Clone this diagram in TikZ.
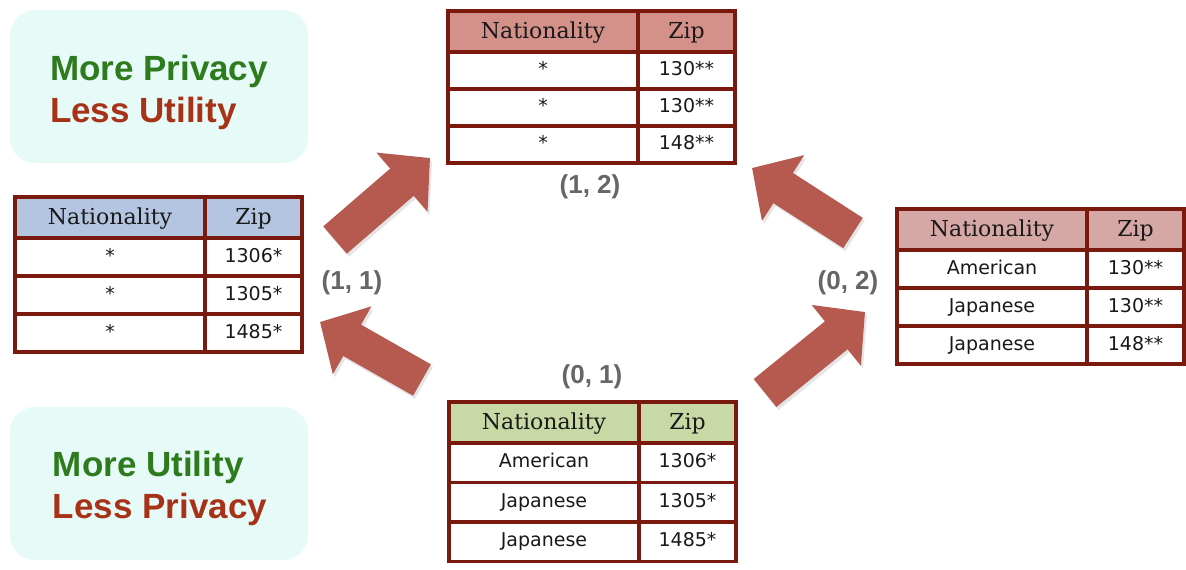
\documentclass[tikz,border=0pt]{standalone}
\usepackage{fontspec}
\setsansfont{Liberation Sans}
\newfontfamily\headfont{DejaVu Serif}
\newfontfamily\cellfont{DejaVu Sans}
\usetikzlibrary{arrows.meta}

\definecolor{tabline}{HTML}{7A1A0E}
\definecolor{hblue}{HTML}{B3C5E1}
\definecolor{hred}{HTML}{D4918A}
\definecolor{hpink}{HTML}{D6A8A5}
\definecolor{hgreen}{HTML}{C9D9A5}
\definecolor{boxcyan}{HTML}{E6FBF8}
\definecolor{moregreen}{HTML}{2E7B1E}
\definecolor{lessred}{HTML}{A83218}
\definecolor{arrowred}{HTML}{B65A50}
\definecolor{labgray}{HTML}{666666}

\tikzset{
  tabgrid/.style={draw=tabline, line width=1.6pt},
  headtxt/.style={inner sep=0pt, font=\headfont\fontsize{11}{13}\selectfont, text=black!90, text height=8pt, text depth=2pt},
  celltxt/.style={inner sep=0pt, font=\cellfont\fontsize{9.5}{11}\selectfont, text=black!90, text height=7pt, text depth=2pt},
  infobox/.style={fill=boxcyan, rounded corners=12.5pt, minimum width=149pt, minimum height=76.5pt,
    align=left, font=\sffamily\bfseries\fontsize{17.5}{21}\selectfont},
  steplabel/.style={font=\sffamily\bfseries\fontsize{13}{15}\selectfont, text=labgray},
  blockarrow/.style={line width=18pt, draw=arrowred, -{Triangle[width=38pt,length=18.5pt]}},
  arrowshadow/.style={blockarrow, draw=black!10}
}

% name, left, top, header colour, row height, rows
\newcommand{\ktab}[6]{%
  \fill[#4] (#2,#3) rectangle ++(287,41);
  \node[headtxt] (#1-nat) at (#2+95,#3+21) {Nationality};
  \node[headtxt] (#1-zip) at (#2+238.5,#3+21) {Zip};
  \foreach \nat/\zip [count=\r] in {#6} {
    \node[celltxt] (#1-\r-a) at (#2+95,#3+41+\r*#5-0.5*#5) {\nat};
    \node[celltxt] (#1-\r-b) at (#2+238.5,#3+41+\r*#5-0.5*#5) {\zip};
    \draw[tabgrid] (#2,#3+41+\r*#5-#5) -- ++(287,0);
  }
  \draw[tabgrid] (#2,#3) rectangle ++(287,41+3*#5);
  \draw[tabgrid] (#2+190,#3) -- ++(0,41+3*#5);
}

\begin{document}
\begin{tikzpicture}[x=0.5pt,y=-0.5pt]
  \fill[white] (0,0) rectangle (1186,569);
  \useasboundingbox (0,0) rectangle (1186,569);

  \fill[boxcyan, rounded corners=12.5pt] (10,10) rectangle (308,163);
  \fill[boxcyan, rounded corners=12.5pt] (10,407) rectangle (308,560);
  \node[align=left, font=\sffamily\bfseries\fontsize{17.5}{21}\selectfont] (privbox) at (159,92) {\textcolor{moregreen}{More Privacy}\\\textcolor{lessred}{Less Utility}};
  \node[align=left, font=\sffamily\bfseries\fontsize{17.5}{21}\selectfont] (utilbox) at (160,488) {\textcolor{moregreen}{More Utility}\\\textcolor{lessred}{Less Privacy}};

  \ktab{t11}{15}{197}{hblue}{38}{*/1306*, */1305*, */1485*}
  \ktab{t12}{448}{11}{hred}{37}{*/130**, */130**, */148**}
  \ktab{t02}{897}{209}{hpink}{38}{American/130**, Japanese/130**, Japanese/148**}
  \ktab{t01}{449}{402}{hgreen}{39.5}{American/1306*, Japanese/1305*, Japanese/1485*}

  \node[steplabel] (l11) at (352,283) {(1, 1)};
  \node[steplabel] (l12) at (590,187) {(1, 2)};
  \node[steplabel] (l02) at (848,283) {(0, 2)};
  \node[steplabel] (l01) at (592,377) {(0, 1)};

  \coordinate (a1s) at (335,240);
  \coordinate (a1e) at (430,158);
  \coordinate (a2s) at (422,380);
  \coordinate (a2e) at (320,322);
  \coordinate (a3s) at (853,233);
  \coordinate (a3e) at (752,168);
  \coordinate (a4s) at (765,393);
  \coordinate (a4e) at (865,312);

  \foreach \a in {a1,a2,a3,a4} {
    \draw[arrowshadow] ([shift={(2,3)}]\a s) -- ([shift={(2,3)}]\a e);
  }
  \foreach \a in {a1,a2,a3,a4} {
    \draw[blockarrow] (\a s) -- (\a e);
  }
\end{tikzpicture}
\end{document}
